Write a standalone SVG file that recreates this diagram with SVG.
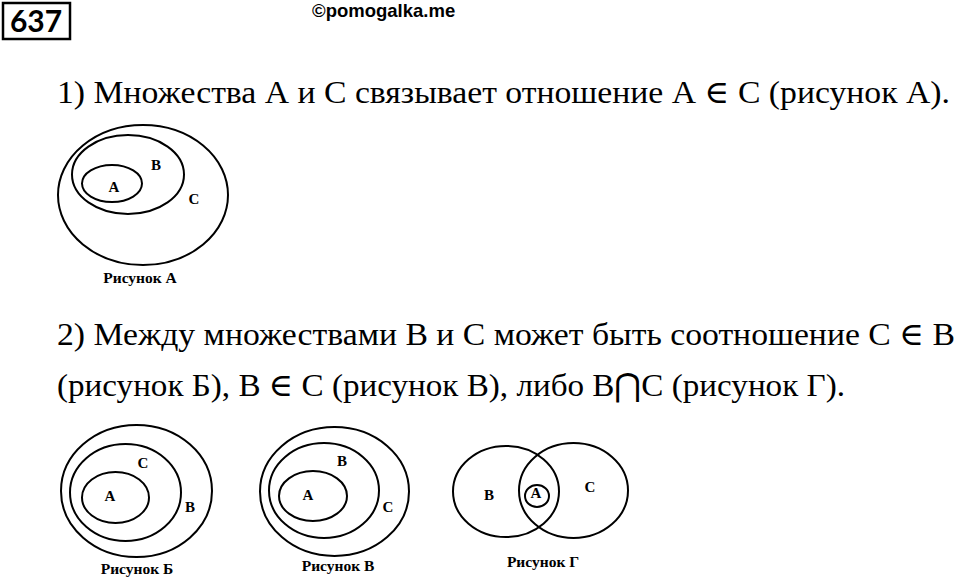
<svg xmlns="http://www.w3.org/2000/svg" width="960" height="581" viewBox="0 0 960 581">
<style>
.e{fill:none;stroke:#000;stroke-width:2}
.t{font-family:"Liberation Serif","DejaVu Serif",serif;font-size:32px;fill:#000}
.l{font-family:"Liberation Serif",serif;font-weight:bold;font-size:15.5px;fill:#000;text-anchor:middle}
.c{font-family:"Liberation Serif",serif;font-weight:bold;font-size:15px;fill:#000;text-anchor:middle}
</style>
<rect width="960" height="581" fill="#fff"/>
<g id="header">
<rect x="3" y="3" width="67" height="36" fill="none" stroke="#000" stroke-width="2.5"/>
<text x="36" y="32" font-family="Lato,'Liberation Sans',sans-serif" font-weight="bold" font-size="30" text-anchor="middle">637</text>
<text x="312" y="17" font-family="'Liberation Sans',Arial,sans-serif" font-weight="bold" font-size="18.5">©pomogalka.me</text>
</g>
<g id="text">
<text class="t" x="57" y="103" textLength="893" lengthAdjust="spacingAndGlyphs">1) Множества А и С связывает отношение А ∈ С (рисунок А).</text>
<text class="t" x="57" y="345" textLength="898" lengthAdjust="spacingAndGlyphs">2) Между множествами В и С может быть соотношение С ∈ В</text>
<text class="t" x="57" y="396" textLength="788" lengthAdjust="spacingAndGlyphs">(рисунок Б), В ∈ С (рисунок В), либо В⋂С (рисунок Г).</text>
</g>
<g id="figA">
<ellipse class="e" cx="143" cy="195" rx="85" ry="70"/>
<ellipse class="e" cx="128" cy="174.5" rx="56" ry="39.5"/>
<ellipse class="e" cx="112" cy="183.5" rx="30" ry="18.5"/>
<text class="c" x="114" y="192">A</text>
<text class="c" x="156" y="170">B</text>
<text class="c" x="194" y="204">C</text>
<text class="l" x="140" y="283">Рисунок А</text>
</g>
<g id="figB">
<ellipse class="e" cx="136.5" cy="491" rx="75.5" ry="66"/>
<ellipse class="e" cx="125.5" cy="492.5" rx="55.5" ry="48.5"/>
<ellipse class="e" cx="115.5" cy="497.5" rx="33.5" ry="25.5"/>
<text class="c" x="110" y="501">A</text>
<text class="c" x="143" y="468">C</text>
<text class="c" x="190" y="512">B</text>
<text class="l" x="137" y="574">Рисунок Б</text>
</g>
<g id="figV">
<ellipse class="e" cx="334.5" cy="491.5" rx="74.5" ry="64.5"/>
<ellipse class="e" cx="324" cy="490.5" rx="55" ry="47.5"/>
<ellipse class="e" cx="313" cy="496" rx="34" ry="25"/>
<text class="c" x="342" y="466">B</text>
<text class="c" x="308" y="500">A</text>
<text class="c" x="388" y="512">C</text>
<text class="l" x="338" y="571">Рисунок В</text>
</g>
<g id="figG">
<ellipse class="e" cx="506" cy="491.5" rx="53" ry="45.5"/>
<ellipse class="e" cx="573.5" cy="490.5" rx="54.5" ry="47.5"/>
<ellipse class="e" cx="537" cy="496" rx="12" ry="11"/>
<text class="c" x="489" y="500">B</text>
<text class="c" x="536" y="498">A</text>
<text class="c" x="590" y="492">C</text>
<text class="l" x="543" y="567">Рисунок Г</text>
</g>
</svg>
